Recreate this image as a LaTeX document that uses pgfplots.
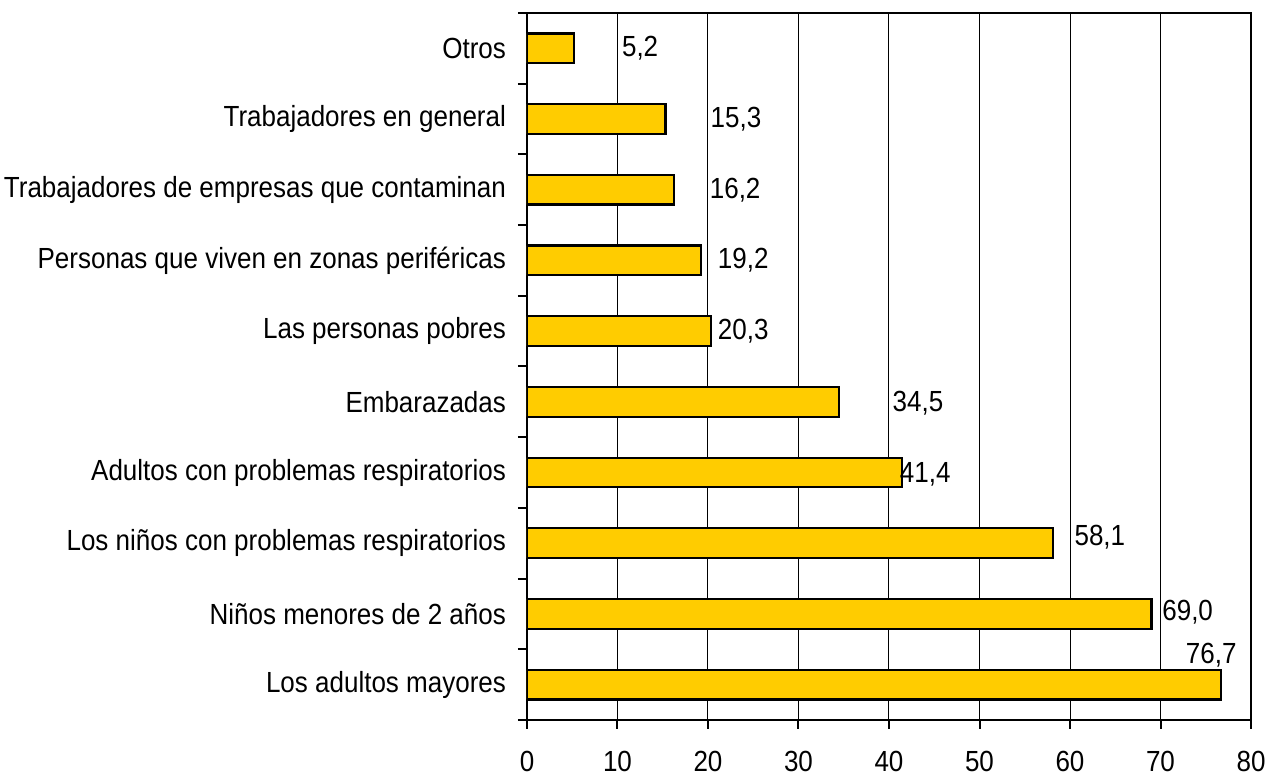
\documentclass[border=0pt]{standalone}
\usepackage{pgfplots}
\pgfplotsset{compat=1.18}
\usepackage{graphicx}
\usepackage{fontspec}
\setmainfont{Liberation Sans}
\definecolor{baryellow}{HTML}{FFCC00}
\newcommand{\vs}[1]{\scalebox{1}[1.12]{#1}}
\begin{document}
\begin{tikzpicture}[font=\fontsize{13}{15.5}\selectfont]
\begin{axis}[
  scale only axis,
  width=362pt, height=353.5pt,
  xmin=0, xmax=80,
  ymin=-0.5, ymax=9.5,
  xtick={0,10,...,80},
  xticklabel={\vs{\pgfmathprintnumber{\tick}}},
  ytick={-0.5,0.5,...,9.5},
  yticklabels={},
  extra y ticks={0,...,9},
  extra y tick labels={\vs{Los adultos mayores},\vs{Niños menores de 2 años},\vs{Los niños con problemas respiratorios},\vs{Adultos con problemas respiratorios},\vs{Embarazadas},\vs{Las personas pobres},\vs{Personas que viven en zonas periféricas},\vs{Trabajadores de empresas que contaminan},\vs{Trabajadores en general},\vs{Otros}},
  extra y tick style={major tick length=0pt, yticklabel style={xshift=-7pt}},
  tick align=outside,
  xtick pos=bottom, ytick pos=left,
  major tick length=4.5pt,
  tick style={draw=black, line width=1pt},
  xmajorgrids,
  major grid style={black, line width=0.5pt},
  axis line style={line width=1.2pt},
  /pgf/number format/assume math mode=true,
  ticklabel style={font=\fontsize{13}{15.5}\selectfont},
  xticklabel style={yshift=-10pt, inner sep=1pt},
  xbar, bar width=0.42,
]
\addplot[fill=baryellow, draw=black, line width=1.1pt] coordinates {
(76.7,0) (69.0,1) (58.1,2) (41.4,3) (34.5,4) (20.3,5) (19.2,6) (16.2,7) (15.3,8) (5.2,9)};
\node at (axis cs:12.5,9) {\vs{5,2}};
\node at (axis cs:23.1,8) {\vs{15,3}};
\node at (axis cs:23.0,7) {\vs{16,2}};
\node at (axis cs:23.9,6) {\vs{19,2}};
\node at (axis cs:23.9,5) {\vs{20,3}};
\node at (axis cs:43.2,3.98) {\vs{34,5}};
\node at (axis cs:44.0,2.97) {\vs{41,4}};
\node at (axis cs:63.3,2.09) {\vs{58,1}};
\node at (axis cs:73.0,1.02) {\vs{69,0}};
\node at (axis cs:75.6,0.42) {\vs{76,7}};
\end{axis}
\pgfresetboundingbox
\path[use as bounding box] ([xshift=-263.5pt,yshift=-27.5pt]current axis.south west) rectangle ([xshift=8.5pt,yshift=6.5pt]current axis.north east);
\end{tikzpicture}
\end{document}
